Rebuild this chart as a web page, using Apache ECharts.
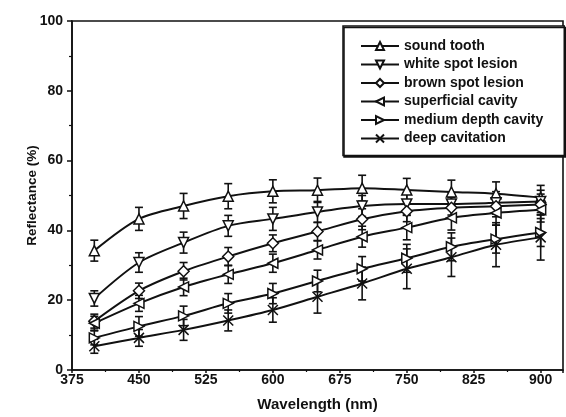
<!DOCTYPE html>
<html>
<head>
<meta charset="utf-8">
<script src="https://cdn.jsdelivr.net/npm/echarts@6/dist/echarts.min.js"></script>
<style>
  html, body { margin: 0; padding: 0; background: #fff; }
  #chart { width: 566px; height: 417px; }
</style>
</head>
<body>
<div id="chart"></div>
<script>
// Wavelength sampling points (nm)
const wavelengths = [400, 450, 500, 550, 600, 650, 700, 750, 800, 850, 900];

// Mean reflectance (%) per tissue condition
const soundTooth        = [34.2, 43.3, 47.0, 49.8, 51.2, 51.5, 52.1, 51.6, 51.0, 50.5, 49.4];
const whiteSpotLesion   = [20.5, 30.8, 36.5, 41.3, 43.3, 45.3, 47.0, 47.6, 47.6, 47.9, 48.3];
const brownSpotLesion   = [14.0, 22.7, 28.3, 32.5, 36.3, 39.7, 43.2, 45.5, 46.5, 46.9, 47.4];
const superficialCavity = [13.4, 19.1, 23.8, 27.4, 30.6, 34.4, 38.2, 40.8, 43.6, 45.0, 45.9];
const mediumDepthCavity = [9.2, 12.5, 15.5, 19.1, 21.9, 25.5, 29.0, 32.0, 35.3, 37.5, 39.4];
const deepCavitation    = [6.8, 9.2, 11.5, 14.2, 17.2, 21.0, 24.8, 29.0, 32.3, 35.9, 38.0];

// Standard deviations (%)
const soundErr       = [3.0, 3.3, 3.6, 3.6, 3.3, 3.5, 3.7, 3.3, 3.4, 3.4, 3.5];
const whiteErr       = [2.2, 2.8, 3.0, 3.0, 3.3, 3.0, 3.0, 3.2, 3.2, 3.2, 3.2];
const brownErr       = [2.0, 2.2, 2.5, 2.6, 2.4, 2.6, 3.0, 3.0, 3.0, 3.0, 3.0];
const superficialErr = [2.0, 2.3, 2.5, 2.6, 2.6, 2.6, 3.0, 3.5, 3.5, 3.5, 3.5];
const mediumErr      = [2.0, 2.8, 2.8, 2.8, 2.9, 3.1, 3.5, 4.0, 4.0, 4.0, 4.0];
const deepErr        = [2.0, 2.4, 3.0, 3.0, 3.5, 4.7, 4.7, 5.7, 5.5, 6.3, 6.5];

const seriesNames = ['sound tooth', 'white spot lesion', 'brown spot lesion',
                     'superficial cavity', 'medium depth cavity', 'deep cavitation'];

const FONT = '"Liberation Sans", Arial, sans-serif';
const INK = '#111';

const groups = [
  { name: seriesNames[0], values: soundTooth,        err: soundErr,       symbol: 'triangle', rotate: 0 },
  { name: seriesNames[1], values: whiteSpotLesion,   err: whiteErr,       symbol: 'triangle', rotate: 180 },
  { name: seriesNames[2], values: brownSpotLesion,   err: brownErr,       symbol: 'diamond',  rotate: 0 },
  { name: seriesNames[3], values: superficialCavity, err: superficialErr, symbol: 'triangle', rotate: 90 },
  { name: seriesNames[4], values: mediumDepthCavity, err: mediumErr,      symbol: 'triangle', rotate: -90 },
  { name: seriesNames[5], values: deepCavitation,    err: deepErr,        symbol: 'path://M0,0L10,10M0,10L10,0', rotate: 0 }
];

function errorBarRenderer(params, api) {
  const x = api.value(0), y = api.value(1), e = api.value(2);
  const top = api.coord([x, y + e]);
  const bot = api.coord([x, y - e]);
  const cap = 4;
  const style = { stroke: INK, lineWidth: 1.6 };
  return {
    type: 'group',
    children: [
      { type: 'line', shape: { x1: top[0], y1: top[1], x2: bot[0], y2: bot[1] }, style },
      { type: 'line', shape: { x1: top[0] - cap, y1: top[1], x2: top[0] + cap, y2: top[1] }, style },
      { type: 'line', shape: { x1: bot[0] - cap, y1: bot[1], x2: bot[0] + cap, y2: bot[1] }, style }
    ]
  };
}

const series = [];
groups.forEach(g => {
  series.push({
    name: g.name + ' SD',
    type: 'custom',
    renderItem: errorBarRenderer,
    data: wavelengths.map((w, i) => [w, g.values[i], g.err[i]]),
    z: 1,
    silent: true
  });
});
groups.forEach(g => {
  series.push({
    name: g.name,
    type: 'line',
    data: wavelengths.map((w, i) => [w, g.values[i]]),
    smooth: 0.3,
    symbol: g.symbol,
    symbolRotate: g.rotate,
    symbolSize: g.symbol === 'diamond' ? 11 : 10,
    showAllSymbol: true,
    lineStyle: { color: INK, width: 2 },
    itemStyle: { color: '#fff', borderColor: INK, borderWidth: 1.5 },
    z: 3
  });
});

const chart = echarts.init(document.getElementById('chart'), null, { renderer: 'canvas' });
chart.setOption({
  backgroundColor: '#fff',
  animation: false,
  grid: {
    left: 72, top: 21, width: 499, height: 353,
    show: true, borderColor: INK, borderWidth: 1.6, backgroundColor: 'transparent'
  },
  legend: {
    data: seriesNames,
    orient: 'vertical',
    left: 343, top: 26,
    padding: [13, 21, 10, 17],
    itemGap: 4.5,
    itemWidth: 38, itemHeight: 10,
    backgroundColor: '#fff',
    borderColor: INK, borderWidth: 1.5,
    shadowColor: INK, shadowBlur: 0, shadowOffsetX: 1, shadowOffsetY: 1.5,
    textStyle: { fontFamily: FONT, fontWeight: 'bold', fontSize: 14, color: INK }
  },
  xAxis: {
    type: 'value',
    min: 375, max: 925, interval: 75,
    name: 'Wavelength (nm)',
    nameLocation: 'middle', nameGap: 27,
    nameMoveOverlap: false,
    nameTextStyle: { fontFamily: FONT, fontWeight: 'bold', fontSize: 15, color: INK },
    axisLine: { lineStyle: { color: INK, width: 1.6 } },
    axisTick: { length: 3, lineStyle: { color: INK, width: 1.5 } },
    minorTick: { show: true, splitNumber: 2, length: 2, lineStyle: { color: INK, width: 1.2 } },
    axisLabel: {
      margin: 3, fontFamily: FONT, fontWeight: 'bold', fontSize: 14, color: INK,
      formatter: v => (v > 900 ? '' : String(v))
    },
    splitLine: { show: false }
  },
  yAxis: {
    type: 'value',
    min: 0, max: 100, interval: 20,
    name: 'Reflectance (%)',
    nameLocation: 'middle', nameGap: 33,
    nameMoveOverlap: false,
    nameTextStyle: { fontFamily: FONT, fontWeight: 'bold', fontSize: 13.5, color: INK },
    axisLine: { lineStyle: { color: INK, width: 1.6 } },
    axisTick: { length: 5, lineStyle: { color: INK, width: 1.5 } },
    minorTick: { show: true, splitNumber: 2, length: 3, lineStyle: { color: INK, width: 1.2 } },
    axisLabel: { margin: 9, fontFamily: FONT, fontWeight: 'bold', fontSize: 14, color: INK },
    splitLine: { show: false }
  },
  series
});
</script>
</body>
</html>
